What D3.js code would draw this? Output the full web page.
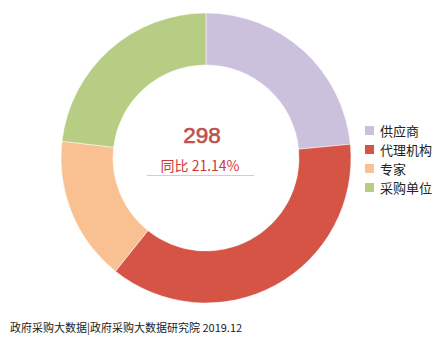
<!DOCTYPE html>
<html><head><meta charset="utf-8">
<script src="https://cdn.jsdelivr.net/npm/d3@7/dist/d3.min.js"></script>
<style>body{margin:0;background:#fff}</style>
</head><body>
<svg id="c" width="440" height="354"></svg>
<script>
const categories = ["供应商", "代理机构", "专家", "采购单位"];
const values = [70, 111, 48, 69];
const colors = ["#ccc1dc", "#d65446", "#f9c191", "#b7cd84"];
const totalLabel = "298";
const yoyLabel = "同比 21.14%";
const footer = "政府采购大数据|政府采购大数据研究院 2019.12";

const svg = d3.select("#c");
const font = "'Noto Sans CJK SC', 'Liberation Sans', sans-serif";
const cx = 206, cy = 158, R = 145, r = 93;

const pie = d3.pie().sort(null).value(d => d)(values);
const arc = d3.arc().innerRadius(r).outerRadius(R);
const g = svg.append("g").attr("transform", `translate(${cx},${cy})`);
g.selectAll("path").data(pie).join("path")
  .attr("d", arc).attr("fill", (d, i) => colors[i])
  .attr("stroke", "#fff").attr("stroke-width", 0.5);

g.append("text").attr("x", -4).attr("y", -15).attr("text-anchor", "middle")
  .attr("font-family", "'Liberation Sans', Arial, sans-serif").attr("font-size", 22.5)
  .attr("fill", "#c0504d").attr("stroke", "#c0504d").attr("stroke-width", 0.6)
  .text(totalLabel);
g.append("text").attr("x", -6).attr("y", 13).attr("text-anchor", "middle")
  .attr("font-family", font).attr("font-size", 14)
  .attr("fill", "#d03a36").text(yoyLabel);
g.append("line").attr("x1", -59).attr("x2", 48).attr("y1", 17.5).attr("y2", 17.5)
  .attr("stroke", "#b8d4f0").attr("stroke-width", 1);

const leg = svg.append("g");
categories.forEach((c, i) => {
  const y = 131 + i * 19;
  leg.append("rect").attr("x", 365).attr("y", y - 5).attr("width", 9).attr("height", 9).attr("fill", colors[i]);
  leg.append("text").attr("x", 380).attr("y", y + 5).attr("font-family", font)
    .attr("font-size", 13).attr("fill", "#222").text(c);
});

svg.append("text").attr("x", 10).attr("y", 332).attr("font-family", font)
  .attr("font-size", 11).attr("fill", "#222").text(footer);
</script>
</body></html>
